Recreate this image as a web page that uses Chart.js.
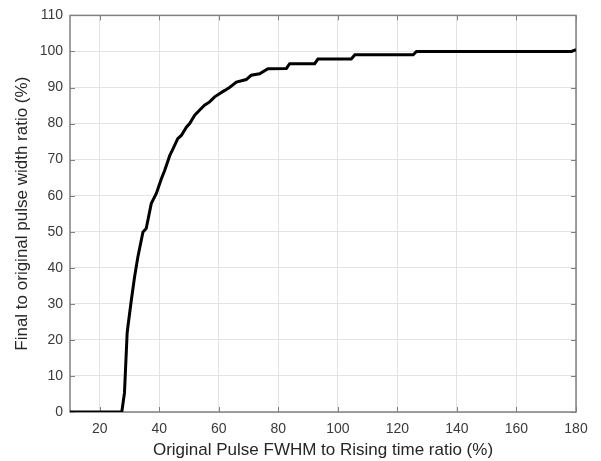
<!DOCTYPE html>
<html>
<head>
<meta charset="utf-8">
<script src="https://cdn.jsdelivr.net/npm/chart.js@4.4.1/dist/chart.umd.min.js"></script>
<style>
  html, body { margin: 0; padding: 0; background: #ffffff; }
  #wrap { width: 601px; height: 461px; }
</style>
</head>
<body>
<div id="wrap"><canvas id="c" width="601" height="461"></canvas></div>
<script>
// Pulse FWHM / rising-time ratio (%) and resulting width ratio (%)
const fwhmRatio = [10, 27.4, 28.3, 29.2, 29.5, 30.6, 31.7, 32.8, 34.5, 35.6, 37.3, 39.0, 40.7, 41.8,
  43.5, 44.6, 46.2, 47.4, 49.1, 50.2, 51.9, 53.5, 55.2, 56.9, 58.6, 60.2, 62.0, 63.7, 65.9, 69.2,
  70.9, 73.7, 76.5, 82.7, 83.8, 92.2, 93.3, 104.5, 105.7, 125.3, 126.4, 178.5, 180];
const widthRatio = [0, 0, 5.3, 21.9, 24.0, 31.0, 37.5, 43.0, 49.9, 50.9, 57.8, 60.6, 64.7, 67.0,
  71.1, 73.0, 75.8, 76.7, 79.0, 80.0, 82.3, 83.7, 85.1, 86.0, 87.4, 88.3, 89.2, 90.1, 91.5, 92.2,
  93.4, 93.8, 95.2, 95.3, 96.6, 96.6, 97.9, 97.9, 99.1, 99.1, 100, 100, 100.5];

const xTicks = [20, 40, 60, 80, 100, 120, 140, 160, 180];
const yTicks = [0, 10, 20, 30, 40, 50, 60, 70, 80, 90, 100, 110];

const xTitle = 'Original Pulse FWHM to Rising time ratio (%)';
const yTitle = 'Final to original pulse width ratio (%)';

const axisColor = '#808080';
const gridColor = '#e3e3e3';
const labelColor = '#3a3a3a';
const FONT = '"Liberation Sans", Arial, Helvetica, sans-serif';

const points = fwhmRatio.map((x, i) => ({ x: x, y: widthRatio[i] }));

// Box around the plot area with inward tick marks
const boxPlugin = {
  id: 'boxTicks',
  beforeDatasetsDraw(chart) {
    const { ctx, chartArea: a, scales } = chart;
    const tl = 5;
    ctx.save();
    ctx.strokeStyle = axisColor;
    ctx.lineWidth = 1;
    ctx.beginPath();
    xTicks.forEach(v => {
      const px = Math.round(scales.x.getPixelForValue(v)) + 0.5;
      ctx.moveTo(px, a.bottom); ctx.lineTo(px, a.bottom - tl);
      ctx.moveTo(px, a.top); ctx.lineTo(px, a.top + tl);
    });
    yTicks.forEach(v => {
      const py = Math.round(scales.y.getPixelForValue(v)) + 0.5;
      ctx.moveTo(a.left, py); ctx.lineTo(a.left + tl, py);
      ctx.moveTo(a.right, py); ctx.lineTo(a.right - tl, py);
    });
    ctx.stroke();
    ctx.lineWidth = 1.5;
    ctx.strokeRect(a.left, a.top, a.right - a.left, a.bottom - a.top);
    ctx.restore();
  }
};

new Chart(document.getElementById('c'), {
  type: 'scatter',
  data: {
    datasets: [{
      data: points,
      showLine: true,
      borderColor: '#000000',
      borderWidth: 3,
      pointRadius: 0,
      pointHoverRadius: 0,
      tension: 0,
      fill: false
    }]
  },
  options: {
    responsive: false,
    animation: false,
    events: [],
    layout: { padding: { left: 0, right: 25, top: 15, bottom: 0 } },
    plugins: { legend: { display: false }, tooltip: { enabled: false } },
    scales: {
      x: {
        type: 'linear',
        min: 10, max: 180,
        afterBuildTicks(s) { s.ticks = xTicks.map(v => ({ value: v })); },
        afterFit(s) { s.height = 49; },
        grid: { color: gridColor, drawTicks: false, lineWidth: 1 },
        border: { display: false },
        ticks: { color: labelColor, font: { family: FONT, size: 14 }, padding: 9, maxRotation: 0 },
        title: { display: true, text: xTitle, color: '#262626',
                 font: { family: FONT, size: 17 }, padding: { top: 0, bottom: 0 } }
      },
      y: {
        type: 'linear',
        min: 0, max: 110,
        afterBuildTicks(s) { s.ticks = yTicks.map(v => ({ value: v })); },
        afterFit(s) { s.width = 70; },
        grid: { color: gridColor, drawTicks: false, lineWidth: 1 },
        border: { display: false },
        ticks: { color: labelColor, font: { family: FONT, size: 14 }, padding: 7 },
        title: { display: true, text: yTitle, color: '#262626',
                 font: { family: FONT, size: 17 }, padding: { top: 12, bottom: 0 } }
      }
    }
  },
  plugins: [boxPlugin]
});
</script>
</body>
</html>
